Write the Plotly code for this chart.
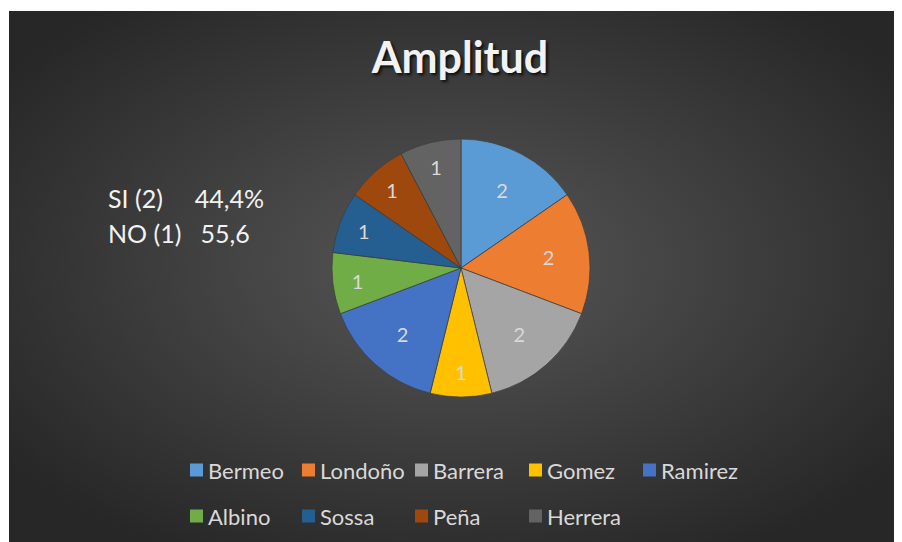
import base64
import plotly.graph_objects as go

# ---- data ----
names = ["Bermeo", "Londoño", "Barrera", "Gomez", "Ramirez", "Albino", "Sossa", "Peña", "Herrera"]
values = [2, 2, 2, 1, 2, 1, 1, 1, 1]
colors = ["#5B9BD5", "#ED7D31", "#A5A5A5", "#FFC000", "#4472C4", "#70AD47", "#255E91", "#9E480E", "#636363"]
title_text = "Amplitud"
side_lines = ["SI (2)" + "\u00a0" * 5 + "44,4%", "NO (1)" + "\u00a0" * 3 + "55,6"]

# page body has an 8px margin; figure fills the rest of the 902x542 window
OFF = 8
W, H = 902 - OFF, 542 - OFF
FONT = "Lato"
TXT = "#d9d9d9"

def px(x):
    return (x - OFF) / W

def py(y):
    return 1 - (y - OFF) / H

bw, bh = 893, 531
svg = (
    f"<svg xmlns='http://www.w3.org/2000/svg' width='{bw}' height='{bh}' preserveAspectRatio='none' viewBox='0 0 {bw} {bh}'>"
    "<defs><radialGradient id='g' cx='50%' cy='48%' r='62%'>"
    "<stop offset='0' stop-color='#575757'/><stop offset='1' stop-color='#272727'/>"
    f"</radialGradient></defs><rect width='{bw}' height='{bh}' fill='url(#g)'/></svg>"
)
bg_src = "data:image/svg+xml;base64," + base64.b64encode(svg.encode()).decode()

fig = go.Figure()
fig.add_trace(go.Pie(
    labels=names,
    values=values,
    sort=False,
    direction="clockwise",
    rotation=0,
    marker=dict(colors=colors, line=dict(color="rgba(60,60,60,0.9)", width=0.8)),
    textinfo="value",
    textposition="inside",
    insidetextorientation="horizontal",
    insidetextfont=dict(color=TXT, size=20, family=FONT),
    domain=dict(x=[px(332), px(590)], y=[py(397), py(139)]),
    showlegend=False,
    hoverinfo="label+value",
))

shapes = []
annotations = []
col_x = [190, 302, 415, 529, 643]
row_y = [470, 516]
for i, (n, c) in enumerate(zip(names, colors)):
    r, k = divmod(i, 5)
    x0 = col_x[k]
    yc = row_y[r]
    shapes.append(dict(type="rect", xref="paper", yref="paper",
                       x0=px(x0), x1=px(x0 + 13), y0=py(yc + 6.5), y1=py(yc - 6.5),
                       fillcolor=c, line=dict(width=0)))
    annotations.append(dict(text=n, xref="paper", yref="paper", x=px(x0 + 16), y=py(yc),
                            xanchor="left", yanchor="middle", showarrow=False,
                            font=dict(color=TXT, size=22, family=FONT)))

for j, t in enumerate(side_lines):
    annotations.append(dict(text=t, xref="paper", yref="paper", x=px(106), y=py(198 + 35 * j),
                            xanchor="left", yanchor="middle", showarrow=False,
                            font=dict(color="#f2f2f2", size=25, family=FONT)))

fig.update_layout(
    width=W, height=H,
    margin=dict(l=0, r=0, t=0, b=0),
    paper_bgcolor="white",
    plot_bgcolor="rgba(0,0,0,0)",
    images=[dict(source=bg_src, xref="paper", yref="paper", x=px(9), y=py(11),
                 sizex=1 - px(9), sizey=py(11), xanchor="left", yanchor="top",
                 sizing="stretch", layer="below")],
    title=dict(text="<b>" + title_text + "</b>", x=px(460), xanchor="center",
               y=py(58), yanchor="middle", yref="container",
               font=dict(color="#f2f2f2", size=43, family=FONT,
                         shadow="2px 2px 3px rgba(0,0,0,0.8)")),
    shapes=shapes,
    annotations=annotations,
)

fig.write_html("out.html")
